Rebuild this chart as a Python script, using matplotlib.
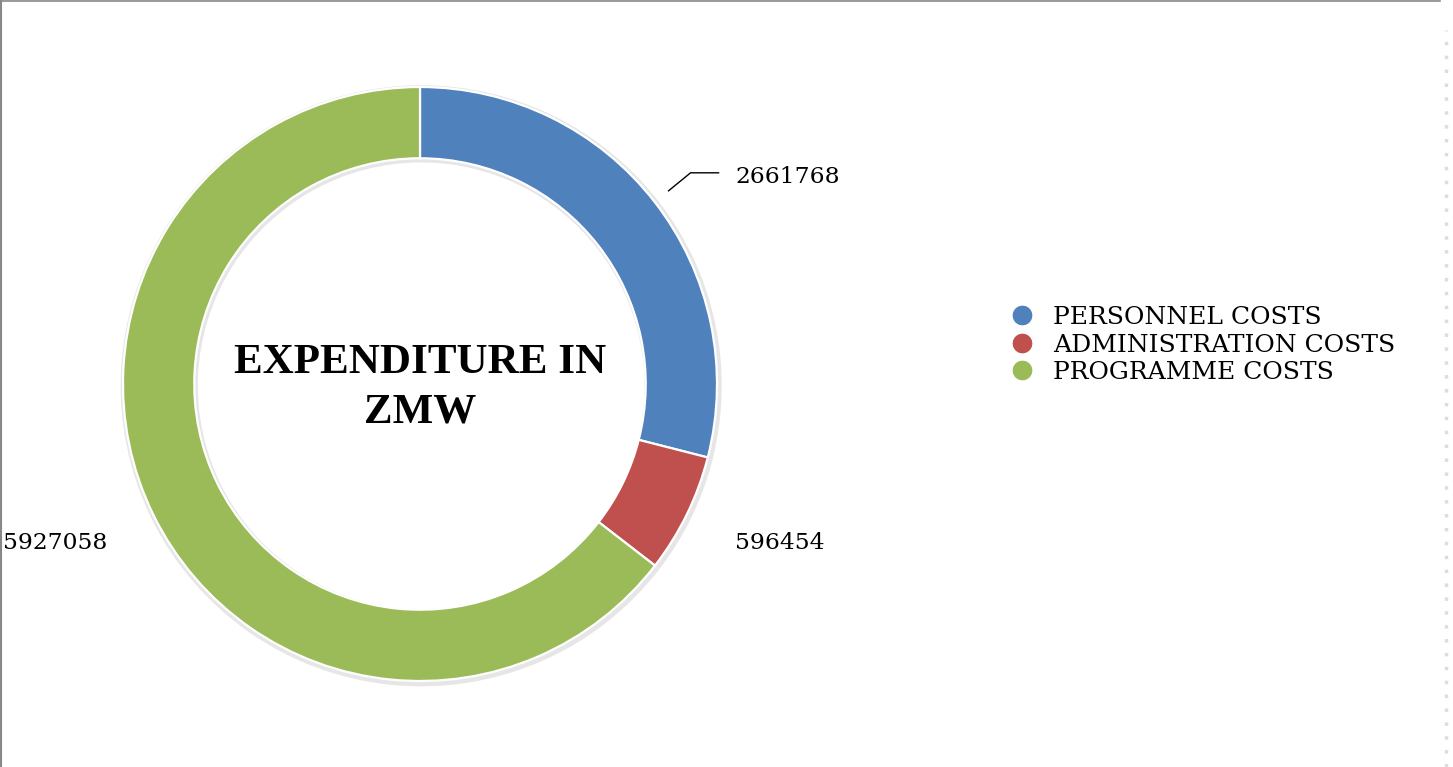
import matplotlib
matplotlib.use('Agg')
import matplotlib.pyplot as plt
from matplotlib.lines import Line2D
import numpy as np

# data
categories = ['PERSONNEL COSTS', 'ADMINISTRATION COSTS', 'PROGRAMME COSTS']
values = [2661768, 596454, 5927058]
colors = ['#4F81BD', '#C0504D', '#9BBB59']
title = 'EXPENDITURE IN\nZMW'

W, H = 1453, 767
R = 297.0          # outer radius in px
CX, CY = 420, 384  # donut centre in px (from top)
L = 1.05

fig = plt.figure(figsize=(W / 100, H / 100), dpi=100)
fig.patch.set_facecolor('white')
ax = fig.add_axes([(CX - L * R) / W, (H - CY - L * R) / H, 2 * L * R / W, 2 * L * R / H])

# faint shadow under the ring
ax.pie(values, colors=['#e6e6e6'] * 3, startangle=90, counterclock=False,
       radius=1.012, center=(0.004, -0.006),
       wedgeprops=dict(width=0.26, edgecolor='none'))
wedges, _ = ax.pie(values, colors=colors, startangle=90, counterclock=False,
                   radius=1.0,
                   wedgeprops=dict(width=0.24, edgecolor='white', linewidth=1.6))
# pie resets the limits, so set them afterwards
ax.set_xlim(-L, L)
ax.set_ylim(-L, L)
ax.set_aspect('equal')
ax.axis('off')

# data labels, placed off the mid angle of each wedge (offsets in px)
offsets = [(81, 25, 'left'), (48, -29, 'left'), (-46, -28, 'right')]
for w, v, (dx, dy, ha) in zip(wedges, values, offsets):
    mid = np.deg2rad((w.theta1 + w.theta2) / 2)
    x0, y0 = np.cos(mid), np.sin(mid)
    ax.text(x0 + dx / R, y0 + dy / R, str(v), ha=ha, va='center',
            fontsize=16.8, family='DejaVu Serif', color='black')
    if dx > 70:
        # leader line for the personnel label
        ax.plot([x0 + 14 / R, x0 + 36 / R, x0 + 64 / R],
                [y0 + 11 / R, y0 + 29 / R, y0 + 29 / R],
                color='black', lw=1.0, clip_on=False)

ax.text(0, -4 / R, title, ha='center', va='center', fontsize=31,
        fontweight='bold', family='Liberation Serif', linespacing=1.4)

# legend
handles = [Line2D([0], [0], marker='o', linestyle='none', markersize=15,
                  markerfacecolor=c, markeredgecolor='white', markeredgewidth=0.8)
           for c in colors]
fig.legend(handles, categories, loc='center left',
           bbox_to_anchor=(999 / W, 1 - 345 / H), frameon=False,
           prop={'family': 'DejaVu Serif', 'size': 18},
           handletextpad=0.75, labelspacing=0.18, borderaxespad=0, handlelength=1.0)

# frame edges of the original chart area
fig.add_artist(Line2D([0.5 / W, 0.5 / W], [0, 1], color='#888888', lw=1.5))
fig.add_artist(Line2D([0, 1440 / W], [1 - 0.5 / H, 1 - 0.5 / H], color='#888888', lw=1.2))
fig.add_artist(Line2D([1446 / W, 1446 / W], [0, 1 - 30 / H], color='#dddddd', lw=2.5,
                      linestyle=(0, (1, 3))))

fig.savefig('out.png', dpi=100, facecolor='white')
